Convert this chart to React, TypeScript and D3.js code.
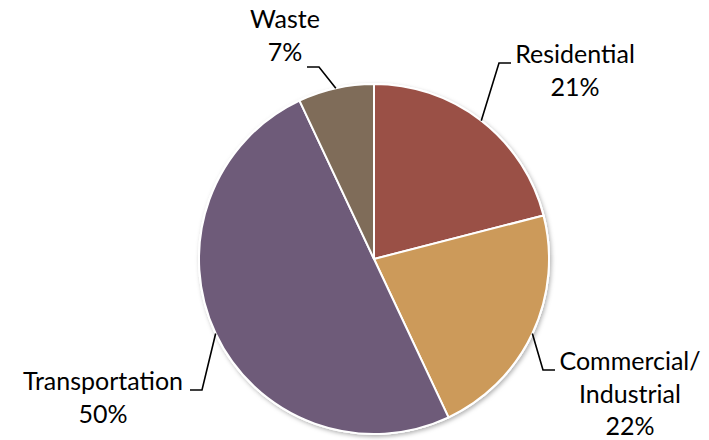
import { useMemo } from 'react';
import * as d3 from 'd3';

const WIDTH = 709;
const HEIGHT = 440;
const RADIUS = 175;
const CENTER = { x: 374, y: 259 };
const FONT = 'Lato, "Open Sans", sans-serif';
const LINE_HEIGHT = 32.5;

const categories = ['Residential', 'Commercial/Industrial', 'Transportation', 'Waste'];
const labelLines = [['Residential'], ['Commercial/', 'Industrial'], ['Transportation'], ['Waste']];
const values = [21, 22, 50, 7];
const colors = ['#9a5046', '#cc9a5a', '#6e5b79', '#7f6c59'];

// hand placed label boxes, like the original: elbow of the leader, where the leader ends, text centre + first baseline
const labelLayout = [
    { elbow: [499, 63], end: [511, 63], tx: 575, ty: 63 },
    { elbow: [543, 370], end: [555, 370], tx: 630, ty: 370 },
    { elbow: [202, 390], end: [190, 390], tx: 103, ty: 390 },
    { elbow: [319, 67], end: [307, 67], tx: 285, ty: 28 },
];

type Slice = { name: string; value: number; color: string; lines: string[] };

const data: Slice[] = categories.map((name, i) => ({
    name,
    value: values[i],
    color: colors[i],
    lines: labelLines[i],
}));

export default function App() {
    const arcs = useMemo(() => {
        const pie = d3
            .pie<Slice>()
            .value((d) => d.value)
            .sort(null);
        return pie(data);
    }, []);

    const arcGen = d3.arc<d3.PieArcDatum<Slice>>().innerRadius(0).outerRadius(RADIUS);
    const edgeArc = d3.arc<d3.PieArcDatum<Slice>>().innerRadius(RADIUS * 2).outerRadius(0);

    const slices = arcs.map((a, i) => (
        <path key={i} d={arcGen(a) || ''} fill={a.data.color} stroke="#fff" strokeWidth={2} strokeLinejoin="round" />
    ));

    const labels = arcs.map((a, i) => {
        // d3 centroid at (inner+outer)/2 = RADIUS, so this is the point on the rim at the mid angle
        const [ex, ey] = edgeArc.centroid(a);
        const lay = labelLayout[i];
        const pts: [number, number][] = [
            [CENTER.x + ex, CENTER.y + ey],
            lay.elbow as [number, number],
            lay.end as [number, number],
        ];
        const lines = [...a.data.lines, `${a.data.value}%`];
        return (
            <g key={i}>
                <path d={d3.line()(pts) || ''} fill="none" stroke="#000" strokeWidth={1.6} />
                <text x={lay.tx} y={lay.ty} textAnchor="middle" fontFamily={FONT} fontSize={25} fill="#000">
                    {lines.map((l, j) => (
                        <tspan key={j} x={lay.tx} y={lay.ty + j * LINE_HEIGHT}>
                            {l}
                        </tspan>
                    ))}
                </text>
            </g>
        );
    });

    return (
        <svg width={WIDTH} height={HEIGHT} style={{ position: 'absolute', left: 0, top: 0, background: '#fff' }}>
            <defs>
                <filter id="shadow" x="-10%" y="-10%" width="120%" height="120%">
                    <feDropShadow dx={1.5} dy={2} stdDeviation={2} floodColor="#000" floodOpacity={0.3} />
                </filter>
            </defs>
            <g transform={`translate(${CENTER.x},${CENTER.y})`}>
                <circle r={RADIUS + 1} fill="#fff" filter="url(#shadow)" />
                {slices}
            </g>
            {labels}
        </svg>
    );
}
